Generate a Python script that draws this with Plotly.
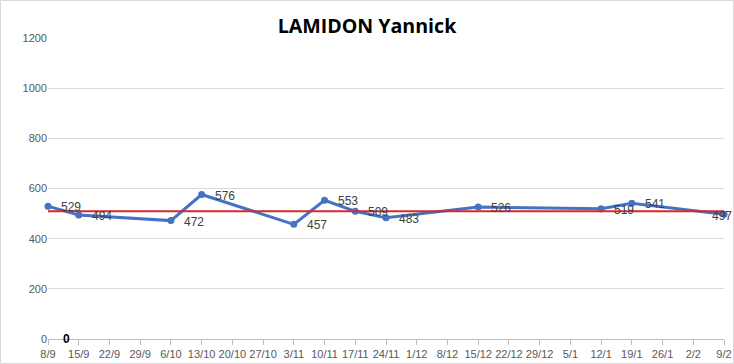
import plotly.graph_objects as go

dates = ["2014-09-08", "2014-09-15", "2014-10-06", "2014-10-13", "2014-11-03",
         "2014-11-10", "2014-11-17", "2014-11-24", "2014-12-15", "2015-01-12",
         "2015-01-19", "2015-02-09"]
values = [529, 494, 472, 576, 457, 553, 509, 483, 526, 519, 541, 497]
mean_value = 509
zero_date = "2014-09-08"
zero_value = 0

tick_dates = ["2014-09-08", "2014-09-15", "2014-09-22", "2014-09-29", "2014-10-06",
              "2014-10-13", "2014-10-20", "2014-10-27", "2014-11-03", "2014-11-10",
              "2014-11-17", "2014-11-24", "2014-12-01", "2014-12-08", "2014-12-15",
              "2014-12-22", "2014-12-29", "2015-01-05", "2015-01-12", "2015-01-19",
              "2015-01-26", "2015-02-02", "2015-02-09"]
tick_labels = ["8/9", "15/9", "22/9", "29/9", "6/10", "13/10", "20/10", "27/10", "3/11",
               "10/11", "17/11", "24/11", "1/12", "8/12", "15/12", "22/12", "29/12",
               "5/1", "12/1", "19/1", "26/1", "2/2", "9/2"]
y_ticks = [0, 200, 400, 600, 800, 1000, 1200]

fig = go.Figure()
fig.add_trace(go.Scatter(
    x=dates, y=values, mode="lines+markers",
    line=dict(color="#4472C4", width=3), marker=dict(size=7, color="#4472C4"),
    showlegend=False, cliponaxis=False))
fig.add_trace(go.Scatter(
    x=[tick_dates[0], tick_dates[-1]], y=[mean_value, mean_value],
    mode="lines", line=dict(color="#D42A2F", width=2), hoverinfo="skip",
    showlegend=False, cliponaxis=False))

label_font = dict(family="Liberation Sans, Arial", size=12, color="#404040")
annotations = []
for i, (d, v) in enumerate(zip(dates, values)):
    last = i == len(values) - 1
    annotations.append(dict(
        x=d, y=v, xref="x", yref="y", text=str(v), showarrow=False,
        xanchor="center" if last else "left", yanchor="middle",
        xshift=-2 if last else 11, yshift=-2 if last else -1,
        font=label_font))
annotations.append(dict(
    x=zero_date, y=zero_value, xref="x", yref="y", text="<b>0</b>", showarrow=False,
    xanchor="left", yanchor="middle", xshift=13, yshift=0,
    font=dict(family="Liberation Sans, Arial", size=12, color="#000000")))

L, R, T, B = 48, 10, 38, 25
W, H = 734, 364
pw, ph = W - L - R, H - T - B

fig.update_layout(
    template="none",
    width=W, height=H, margin=dict(l=L, r=R, t=T, b=B, autoexpand=False),
    paper_bgcolor="white", plot_bgcolor="white",
    title=dict(text="<b>LAMIDON Yannick</b>", x=0.5, xanchor="center",
               y=1 - 26 / H, yanchor="middle",
               font=dict(family="Open Sans, Noto Sans", size=19.6, color="#000000")),
    xaxis=dict(type="date", range=[tick_dates[0], tick_dates[-1]], automargin=False,
               tickmode="array", tickvals=tick_dates, ticktext=tick_labels,
               tickangle=0, showgrid=False, showline=True, linecolor="#BFBFBF",
               linewidth=1, ticks="outside", ticklen=5, tickcolor="#BFBFBF",
               tickfont=dict(family="Liberation Sans, Arial", size=11, color="#595959"),
               zeroline=False),
    yaxis=dict(range=[0, 1200], tickmode="array", tickvals=y_ticks, automargin=False,
               showgrid=True, gridcolor="#D9D9D9", gridwidth=1,
               showline=False, zeroline=False, ticks="", ticklen=0,
               tickfont=dict(family="Liberation Sans, Arial", size=11, color="#595959")),
    annotations=annotations,
    shapes=[dict(type="rect", xref="paper", yref="paper",
                 x0=-L / pw + 0.5 / pw, x1=1 + R / pw - 0.5 / pw,
                 y0=-B / ph + 0.5 / ph, y1=1 + T / ph - 0.5 / ph,
                 line=dict(color="#D9D9D9", width=1), layer="below")],
)

fig.write_html("out.html", config={"displayModeBar": False},
               post_script="document.body.style.margin='0';document.body.style.overflow='hidden';")
